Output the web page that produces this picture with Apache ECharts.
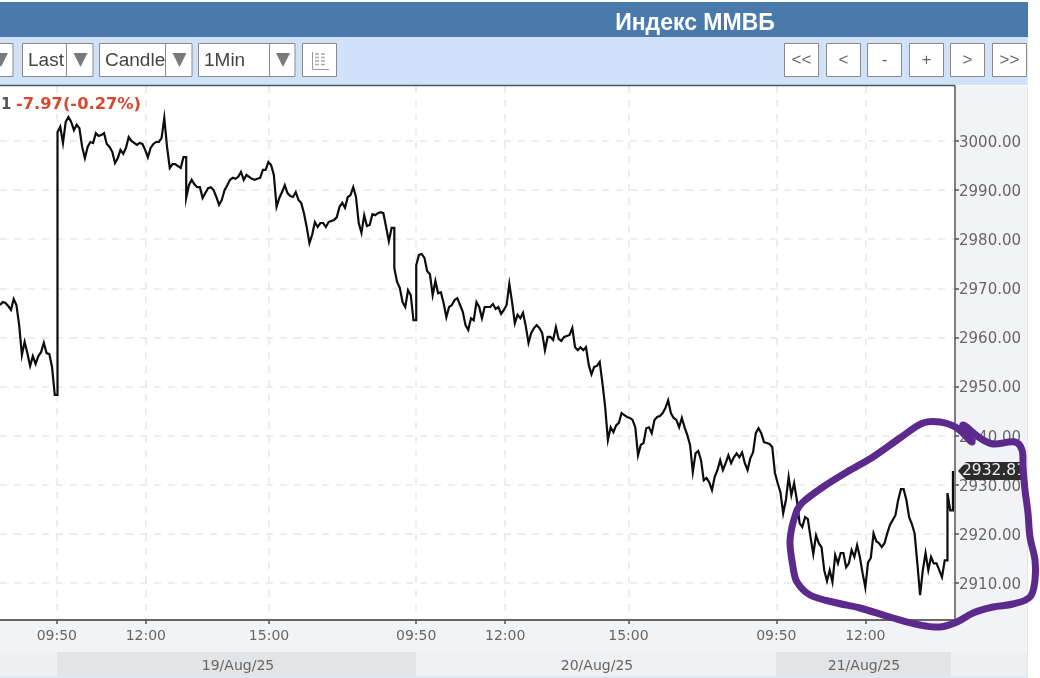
<!DOCTYPE html>
<html>
<head>
<meta charset="utf-8">
<style>html,body{margin:0;padding:0;background:#fff}#c{width:1040px;height:678px}</style>
<script src="https://cdn.jsdelivr.net/npm/echarts@6/dist/echarts.min.js"></script>
</head>
<body>
<div id="c"></div>
<script>
// One price for every 4 trading minutes.
const minutesPerPoint = 4;
const pricesAug18 = [2966.6,2967.2,2967.0,2966.4,2965.6,2967.8,2966.6,2962.5,2956.4,2959.1,2956.8,2954.2,2956.2,2954.6,2956.2,2957.0,2958.9,2956.8,2956.6,2954.0,2948.3];
const pricesAug19 = [3001.8,3002.9,2999.6,3003.9,3004.9,3003.9,3002.2,3003.3,3002.6,2998.8,2996.5,2998.8,2999.8,2999.6,3001.6,3001.0,3001.2,3001.6,2999.4,2998.8,2997.8,2995.5,2996.5,2998.2,2997.4,2998.6,3000.8,3000.0,2999.6,2999.2,2999.6,2999.4,2998.2,2996.7,2998.6,2999.4,2999.8,2999.8,3000.6,3004.7,2998.8,2994.5,2995.3,2995.3,2994.9,2994.5,2996.7,2988.4,2991.0,2992.1,
2991.2,2990.6,2990.6,2988.4,2989.4,2990.4,2990.6,2990.0,2988.6,2987.0,2988.0,2990.0,2991.0,2992.1,2992.5,2992.3,2992.7,2993.7,2992.1,2993.1,2992.7,2992.3,2992.1,2992.3,2992.5,2994.1,2994.1,2995.7,2995.1,2993.1,2986.6,2988.4,2989.6,2991.0,2989.4,2988.8,2988.6,2989.6,2988.0,2987.4,2985.3,2982.5,2979.2,2980.9,2983.5,2982.5,2983.3,2983.3,2982.5,2983.5,
2983.7,2983.9,2984.5,2986.6,2987.4,2986.4,2988.6,2989.0,2990.6,2988.6,2983.3,2981.3,2984.9,2982.7,2982.9,2985.1,2984.9,2985.3,2985.5,2985.3,2982.5,2979.6,2982.3,2974.1,2971.3,2970.1,2967.2,2966.2,2969.6,2968.6,2963.5];
const pricesAug20 = [2974.7,2976.8,2977.0,2976.2,2973.5,2972.9,2968.6,2971.5,2969.0,2969.2,2967.0,2964.1,2966.2,2966.6,2967.6,2968.0,2966.6,2965.2,2962.5,2961.5,2963.9,2963.5,2967.2,2966.2,2963.9,2966.2,2966.2,2966.2,2966.8,2965.8,2966.2,2964.8,2965.6,2966.6,2970.9,2967.2,2962.9,2964.6,2963.9,2965.0,2962.3,2958.9,2960.9,2961.9,2962.5,2961.9,2960.9,2957.4,2960.1,2960.1,
2959.5,2962.1,2959.7,2959.3,2960.1,2960.3,2960.5,2961.9,2958.0,2957.4,2958.0,2957.4,2958.0,2954.4,2952.5,2954.0,2954.2,2955.0,2950.7,2945.8,2939.1,2941.7,2940.7,2942.1,2942.6,2944.6,2944.2,2943.8,2943.6,2943.2,2941.7,2936.0,2938.1,2938.5,2941.5,2941.7,2940.5,2943.2,2943.8,2944.0,2944.6,2945.6,2947.2,2944.6,2943.6,2943.2,2941.7,2943.6,2941.7,2940.1,
2938.1,2932.6,2936.4,2936.9,2935.0,2930.9,2931.4,2930.5,2928.9,2931.6,2933.0,2935.0,2933.0,2934.4,2936.0,2934.4,2935.6,2936.4,2935.6,2936.6,2934.4,2933.0,2935.4,2936.6,2940.5,2941.5,2940.5,2938.7,2938.5,2938.3,2937.7,2932.4];
const pricesAug21 = [2930.3,2928.5,2924.2,2926.9,2931.6,2927.9,2930.3,2926.9,2922.2,2921.4,2923.4,2923.0,2919.3,2915.9,2919.7,2918.1,2917.3,2912.6,2910.4,2912.6,2910.2,2915.7,2914.0,2916.1,2916.1,2913.2,2914.0,2916.7,2915.3,2917.7,2915.3,2912.0,2909.1,2914.2,2915.1,2920.1,2918.5,2918.1,2917.3,2918.1,2920.1,2921.8,2922.8,2923.8,2926.9,2929.1,2929.1,2926.9,2923.4,2922.0,
2920.1,2914.0,2907.5,2912.6,2916.1,2912.6,2915.3,2914.0,2914.0,2912.6,2911.2,2914.6,2928.3,2924.8,2932.81];
const lastPrice = 2932.81;
const yTicks = [2910,2920,2930,2940,2950,2960,2970,2980,2990,3000];
const xTickMinutes = [83,213,393,608,738,918,1134,1264];
const xTickLabels = ['09:50','12:00','15:00','09:50','12:00','15:00','09:50','12:00'];
const dateLabels = ['19/Aug/25','20/Aug/25','21/Aug/25'];
const toolbarLeft = ['Last','Candle','1Min'];
const toolbarRight = ['<<','<','-','+','>','>>'];

const prices = [].concat(pricesAug18, pricesAug19, pricesAug20, pricesAug21);
// Large jumps between two bars are held at the old price so the move draws as a vertical wick.
const seriesData = [];
prices.forEach((p, i) => {
  const x = i * minutesPerPoint;
  if (i > 0 && Math.abs(p - prices[i-1]) > 8) seriesData.push([x, prices[i-1]]);
  seriesData.push([x, p]);
});

const sans = '"Liberation Sans", Arial, sans-serif';
const dejavu = '"DejaVu Sans", sans-serif';
const G = [];
function rect(x,y,w,h,fill,z,stroke){G.push({type:'rect',silent:true,z:z===undefined?-10:z,shape:{x,y,width:w,height:h},style:{fill,stroke:stroke||null,lineWidth:stroke?1:0}});}
function text(x,y,t,font,fill,align,z){G.push({type:'text',silent:true,z:z===undefined?5:z,style:{x,y,text:t,font,fill,textAlign:align||'center',textVerticalAlign:'middle'}});}
function tri(cx,cy){G.push({type:'polygon',silent:true,z:5,shape:{points:[[cx-7,cy-7],[cx+7,cy-7],[cx,cy+7]]},style:{fill:'#7a7a7a'}});}
function line(x1,y1,x2,y2,color,w,z){G.push({type:'line',silent:true,z:z===undefined?5:z,shape:{x1,y1,x2,y2},style:{stroke:color,lineWidth:w}});}

// panels
rect(0,2,1028,35,'#4a7aab');
rect(0,37,1028,48,'#cfe2f9');
rect(955,86,72,534,'#f2f3f6');
rect(0,620,1027,33,'#f2f3f5');
rect(0,652,1027,24,'#eeeff1');
rect(57,652,359,24,'#e3e4e6');
rect(416,652,360,24,'#eff0f2');
rect(776,652,175,24,'#e3e4e6');
rect(0,676,1028,2,'#dbe8f8');
rect(1027,37,1,641,'#dbe8f8');

// toolbar
rect(-20,43.5,33,33,'#fff',1,'#8a8a8a'); tri(1,60);
[[22.5,66,93],[99.5,165,192],[198.5,269,295]].forEach((b,i)=>{
  rect(b[0],43.5,b[2]-b[0],33,'#fff',1,'#8a8a8a');
  line(b[1]+.5,43.5,b[1]+.5,76.5,'#8a8a8a',1);
  tri((b[1]+b[2])/2+1,60);
  text(b[0]+5.5,61,toolbarLeft[i],'19px '+sans,'#444','left');
});
rect(302.5,43.5,34,33,'#fff',1,'#8a8a8a');
line(312.5,52,312.5,69,'#999',1);line(312.5,69.5,329,69.5,'#999',1);
[54,57.5,61,64.5].forEach(y=>{line(315,y,319,y,'#aaa',1.5);line(321,y,325,y,'#aaa',1.5);});
[784.5,826.5,867.5,909.5,950.5,992.5].forEach((x,i)=>{
  rect(x,43.5,34,33,'#fff',1,'#8a8a8a');
  text(x+17,60.5,toolbarRight[i],'17px '+sans,'#666','center');
});

// header strip above the plot
line(0,85.5,955,85.5,'#555',1.5,3);
text(1,105,'1','bold 15px '+dejavu,'#555','left',6);
text(16,105,'-7.97(-0.27%)','bold 16.3px '+dejavu,'#d5492e','left',6);

// date labels
text(238,666,dateLabels[0],'14px '+dejavu,'#666');
text(597,666,dateLabels[1],'14px '+dejavu,'#666');
text(864,666,dateLabels[2],'14px '+dejavu,'#666');

const option = {
  animation:false,
  backgroundColor:'#fff',
  title:{text:'Индекс ММВБ',left:690,top:7,textAlign:'center',textStyle:{color:'#fff',fontFamily:sans,fontWeight:'bold',fontSize:23}},
  grid:{left:0,right:85,top:86,bottom:58,show:true,backgroundColor:'#fff',borderWidth:0},
  xAxis:{type:'value',min:0,max:1395,
    axisLine:{show:true,onZero:false,lineStyle:{color:'#666',width:2}},
    axisTick:{show:true,inside:false,length:4,customValues:xTickMinutes,lineStyle:{color:'#555',width:1.5}},
    axisLabel:{customValues:xTickMinutes,margin:9,color:'#666',fontFamily:dejavu,fontSize:14,
      formatter:v=>xTickLabels[xTickMinutes.indexOf(v)]},
    splitLine:{show:true,lineStyle:{color:'#e8e8e8',width:1.5,type:[7,7]}}},
  yAxis:{type:'value',position:'right',min:2902.46,max:3011.2,
    axisLine:{show:true,onZero:false,lineStyle:{color:'#555',width:1.5}},
    axisTick:{show:true,length:4,customValues:yTicks,lineStyle:{color:'#555',width:1.5}},
    axisLabel:{customValues:yTicks,margin:4,verticalAlign:'top',lineHeight:4,color:'#666',fontFamily:dejavu,fontSize:15,formatter:v=>v.toFixed(2)},
    splitLine:{show:true,lineStyle:{color:'#e8e8e8',width:1.5,type:[7,7]}}},
  series:[{type:'line',data:seriesData,showSymbol:false,clip:false,z:3,
    lineStyle:{color:'#0d0d0d',width:2.2,join:'miter'},emphasis:{disabled:true}}],
  graphic:{elements:G}
};
const chart = echarts.init(document.getElementById('c'));
chart.setOption(option);

// last-price tag, placed through the axis scale, and the hand-drawn loop on top
const tagY = chart.convertToPixel({yAxisIndex:0}, lastPrice);
G.push({type:'polygon',silent:true,z:20,shape:{points:[[958,tagY],[966,tagY-9],[1026,tagY-9],[1026,tagY+9],[966,tagY+9]]},style:{fill:'#2c2c2c'}});
G.push({type:'text',silent:true,z:21,style:{x:962,y:tagY+0.5,text:lastPrice.toFixed(2),font:'15.5px '+dejavu,fill:'#eee',textAlign:'left',textVerticalAlign:'middle'}});
G.push({type:'polyline',silent:true,z:30,shape:{smooth:0.35,points:[[797,510],[792,527],[790,543],[793,567],[797,582],[810,595],[837,603],[860,608],[893,618],[920,625],[940,627],[957,622],[973,613],[993,607],[1013,604],[1030,597],[1035,580],[1035,560],[1030,537],[1028,513],[1025,490],[1023,467],[1022,450],[1015,442],[993,444],[980,438],[963,425],[972,442],[957,428],[940,422],[923,423],[900,438],[873,457],[847,472],[823,487],[803,502],[797,510]]},style:{fill:null,stroke:'#5b2a8c',lineWidth:7,lineJoin:'round',lineCap:'round'}});
chart.setOption({graphic:{elements:G}},{replaceMerge:['graphic']});
</script>
</body>
</html>
